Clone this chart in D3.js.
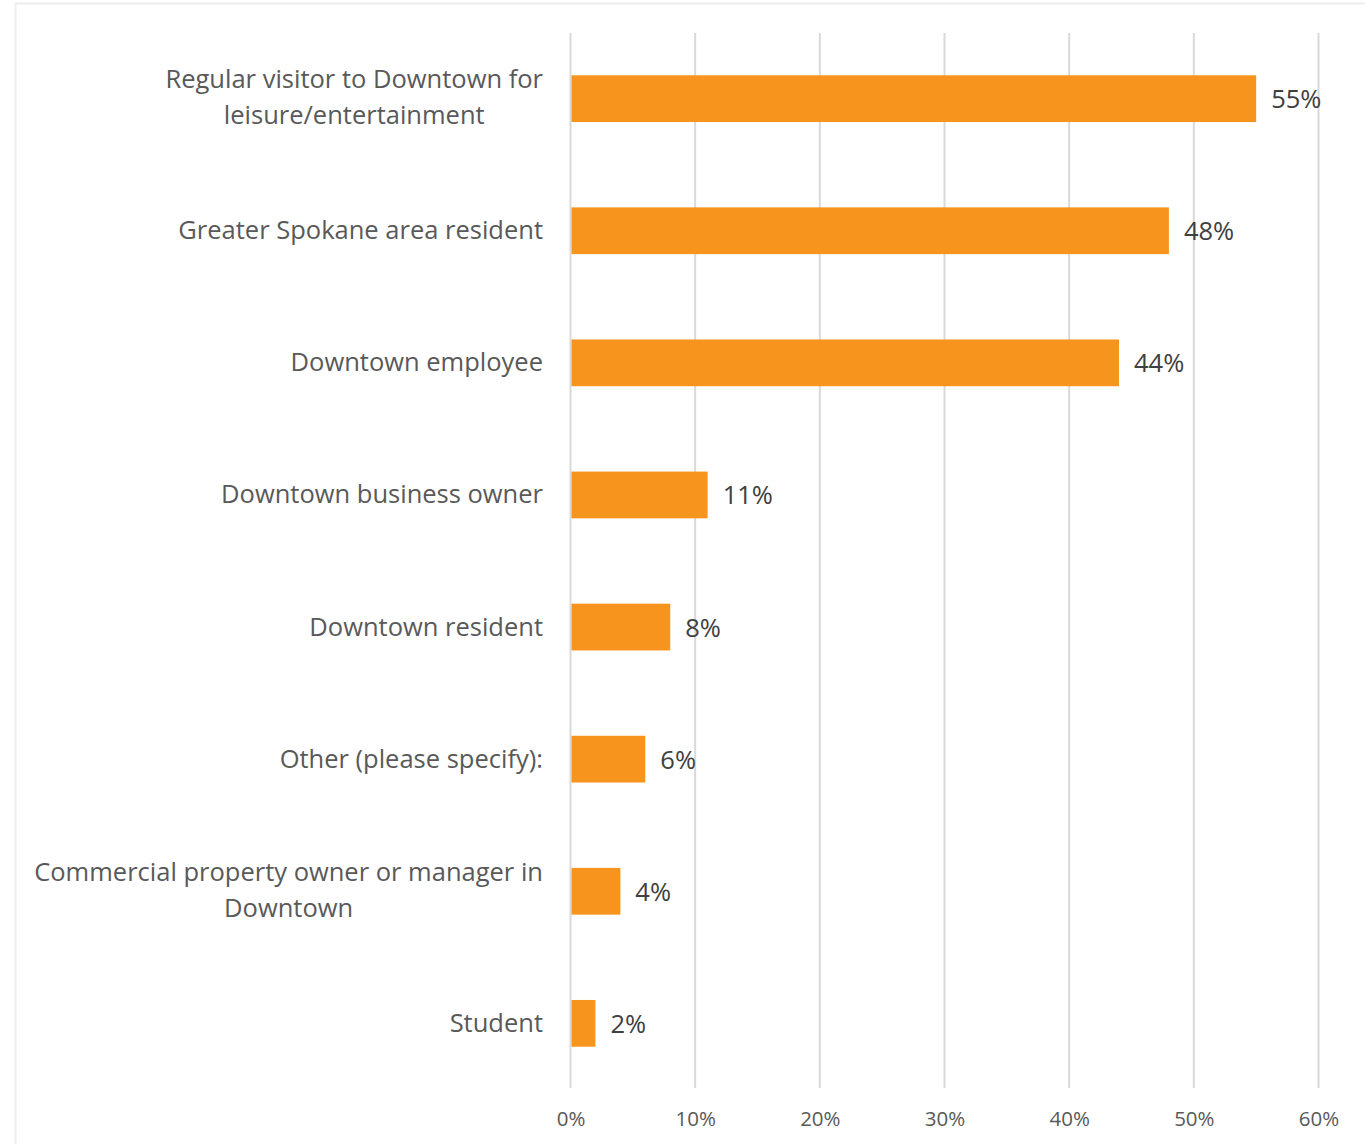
<!DOCTYPE html>
<html>
<head>
<meta charset="utf-8">
<script src="https://cdn.jsdelivr.net/npm/d3@7"></script>
<style>
  html, body { margin: 0; padding: 0; background: #ffffff; }
  svg { display: block; }
</style>
</head>
<body>
<div id="chart"></div>
<script>
// Respondent categories (top to bottom), each split into display lines
const categories = [
  "Regular visitor to Downtown for leisure/entertainment",
  "Greater Spokane area resident",
  "Downtown employee",
  "Downtown business owner",
  "Downtown resident",
  "Other (please specify):",
  "Commercial property owner or manager in Downtown",
  "Student"
];
const categoryLines = [
  ["Regular visitor to Downtown for", "leisure/entertainment"],
  ["Greater Spokane area resident"],
  ["Downtown employee"],
  ["Downtown business owner"],
  ["Downtown resident"],
  ["Other (please specify):"],
  ["Commercial property owner or manager in", "Downtown"],
  ["Student"]
];
// Share of respondents
const shares = [0.55, 0.48, 0.44, 0.11, 0.08, 0.06, 0.04, 0.02];
// Axis ticks
const tickValues = [0, 0.1, 0.2, 0.3, 0.4, 0.5, 0.6];

const W = 1365, H = 1144;
const FONT = "'Open Sans', 'Noto Sans', sans-serif";

const svg = d3.select("#chart").append("svg")
  .attr("width", W).attr("height", H);

// faint frame around the chart area
svg.append("rect")
  .attr("x", 15.5).attr("y", 3.5)
  .attr("width", W + 20).attr("height", H + 20)
  .attr("fill", "none")
  .attr("stroke", "#eeeeee")
  .attr("stroke-width", 2);

const x = d3.scaleLinear().domain([0, 0.6]).range([570.5, 1318.5]);
const y = d3.scaleBand().domain(categories).range([33, 1089])
  .paddingInner(0.646).paddingOuter(0.32);

const plotTop = 33, plotBottom = 1088;

// vertical gridlines
svg.append("g").selectAll("line")
  .data(tickValues)
  .join("line")
  .attr("x1", d => x(d)).attr("x2", d => x(d))
  .attr("y1", plotTop).attr("y2", plotBottom)
  .attr("stroke", "#d9d9d9")
  .attr("stroke-width", 2);

// x-axis labels
const xAxis = d3.axisBottom(x)
  .tickValues(tickValues)
  .tickFormat(d3.format(".0%"))
  .tickSize(0)
  .tickPadding(0);
const xg = svg.append("g")
  .attr("transform", `translate(0, ${plotBottom})`)
  .call(xAxis);
xg.select(".domain").remove();
xg.selectAll("text")
  .attr("dy", null)
  .attr("y", 38)
  .attr("fill", "#595959")
  .attr("font-family", FONT)
  .attr("font-size", "20.5px");

// bars
svg.append("g").selectAll("rect")
  .data(categories)
  .join("rect")
  .attr("x", x(0) + 1)
  .attr("y", d => y(d))
  .attr("width", (d, i) => x(shares[i]) - x(0) - 1)
  .attr("height", y.bandwidth())
  .attr("fill", "#f7941e");

// value labels
svg.append("g").selectAll("text")
  .data(categories)
  .join("text")
  .attr("x", (d, i) => x(shares[i]) + 15)
  .attr("y", d => y(d) + y.bandwidth() / 2 + 9.5)
  .attr("fill", "#404040")
  .attr("font-family", FONT)
  .attr("font-size", "25.5px")
  .text((d, i) => d3.format(".0%")(shares[i]));

// category labels: multi-line blocks are centred, block right edge aligned
const labelRight = 543;
const lineHeight = 36;
const lg = svg.append("g")
  .attr("font-family", FONT)
  .attr("font-size", "25.5px")
  .attr("fill", "#595959");

categories.forEach((c, i) => {
  const lines = categoryLines[i];
  const cy = y(c) + y.bandwidth() / 2 + 8.5;
  const t = lg.append("text");
  lines.forEach((ln, j) => {
    t.append("tspan")
      .attr("y", cy + (j - (lines.length - 1) / 2) * lineHeight - (lines.length - 1))
      .text(ln);
  });
  // measure widest line, then centre each line within the block
  const tsp = t.selectAll("tspan").nodes();
  const widths = tsp.map(n => n.getComputedTextLength());
  const blockW = d3.max(widths);
  const centre = labelRight - blockW / 2;
  t.selectAll("tspan")
    .attr("x", centre)
    .attr("text-anchor", "middle");
});
</script>
</body>
</html>
